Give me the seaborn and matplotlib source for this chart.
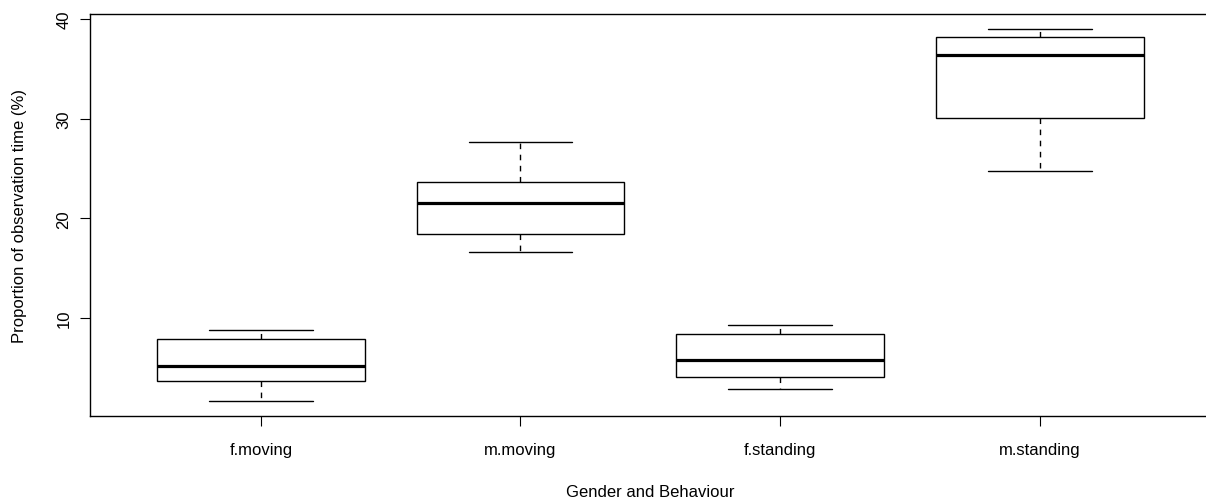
import pandas as pd
import matplotlib
matplotlib.use("Agg")
import matplotlib.pyplot as plt
import seaborn as sns

# five-number summaries (min, q1, median, q3, max)
groups = ["f.moving", "m.moving", "f.standing", "m.standing"]
f_moving = [1.7, 3.7, 5.2, 7.9, 8.8]
m_moving = [16.6, 18.4, 21.5, 23.6, 27.7]
f_standing = [2.9, 4.1, 5.8, 8.4, 9.3]
m_standing = [24.7, 30.1, 36.4, 38.2, 39.0]
y_ticks = [10, 20, 30, 40]

rows = []
for name, vals in zip(groups, [f_moving, m_moving, f_standing, m_standing]):
    for v in vals:
        rows.append({"group": name, "value": v})
df = pd.DataFrame(rows)

sns.set_theme(style="ticks")
plt.rcParams["font.family"] = ["Liberation Sans", "DejaVu Sans"]

fig = plt.figure(figsize=(12.06, 5.02), dpi=100)
ax = fig.add_axes([89.5 / 1206, 85 / 502, 1121.5 / 1206, 402 / 502])

sns.boxplot(
    data=df, x="group", y="value", order=groups,
    whis=(0, 100), width=0.8, color="white", linecolor="black",
    linewidth=1.0, saturation=1,
    medianprops=dict(linewidth=2.3, color="black"),
    whiskerprops=dict(linestyle=(0, (4, 4))),
    ax=ax,
)

ax.set_xlim(-0.66, 3.66)
ax.set_ylim(0.19, 40.48)
ax.set_yticks(y_ticks)
ax.set_xlabel("Gender and Behaviour", fontsize=12, labelpad=19, color="black")
ax.set_ylabel("Proportion of observation time (%)", fontsize=12,
              labelpad=21, color="black")

ax.tick_params(axis="both", length=7, width=0.8, color="black",
               labelsize=12, labelcolor="black", direction="out")
ax.tick_params(axis="x", pad=12)
ax.tick_params(axis="y", pad=6)
for lab in ax.get_yticklabels():
    lab.set_rotation(90)
    lab.set_va("center")

for side in ["left", "bottom", "top", "right"]:
    ax.spines[side].set_visible(True)
    ax.spines[side].set_color("black")
    ax.spines[side].set_linewidth(1.0)

fig.savefig("out.png", dpi=100)
